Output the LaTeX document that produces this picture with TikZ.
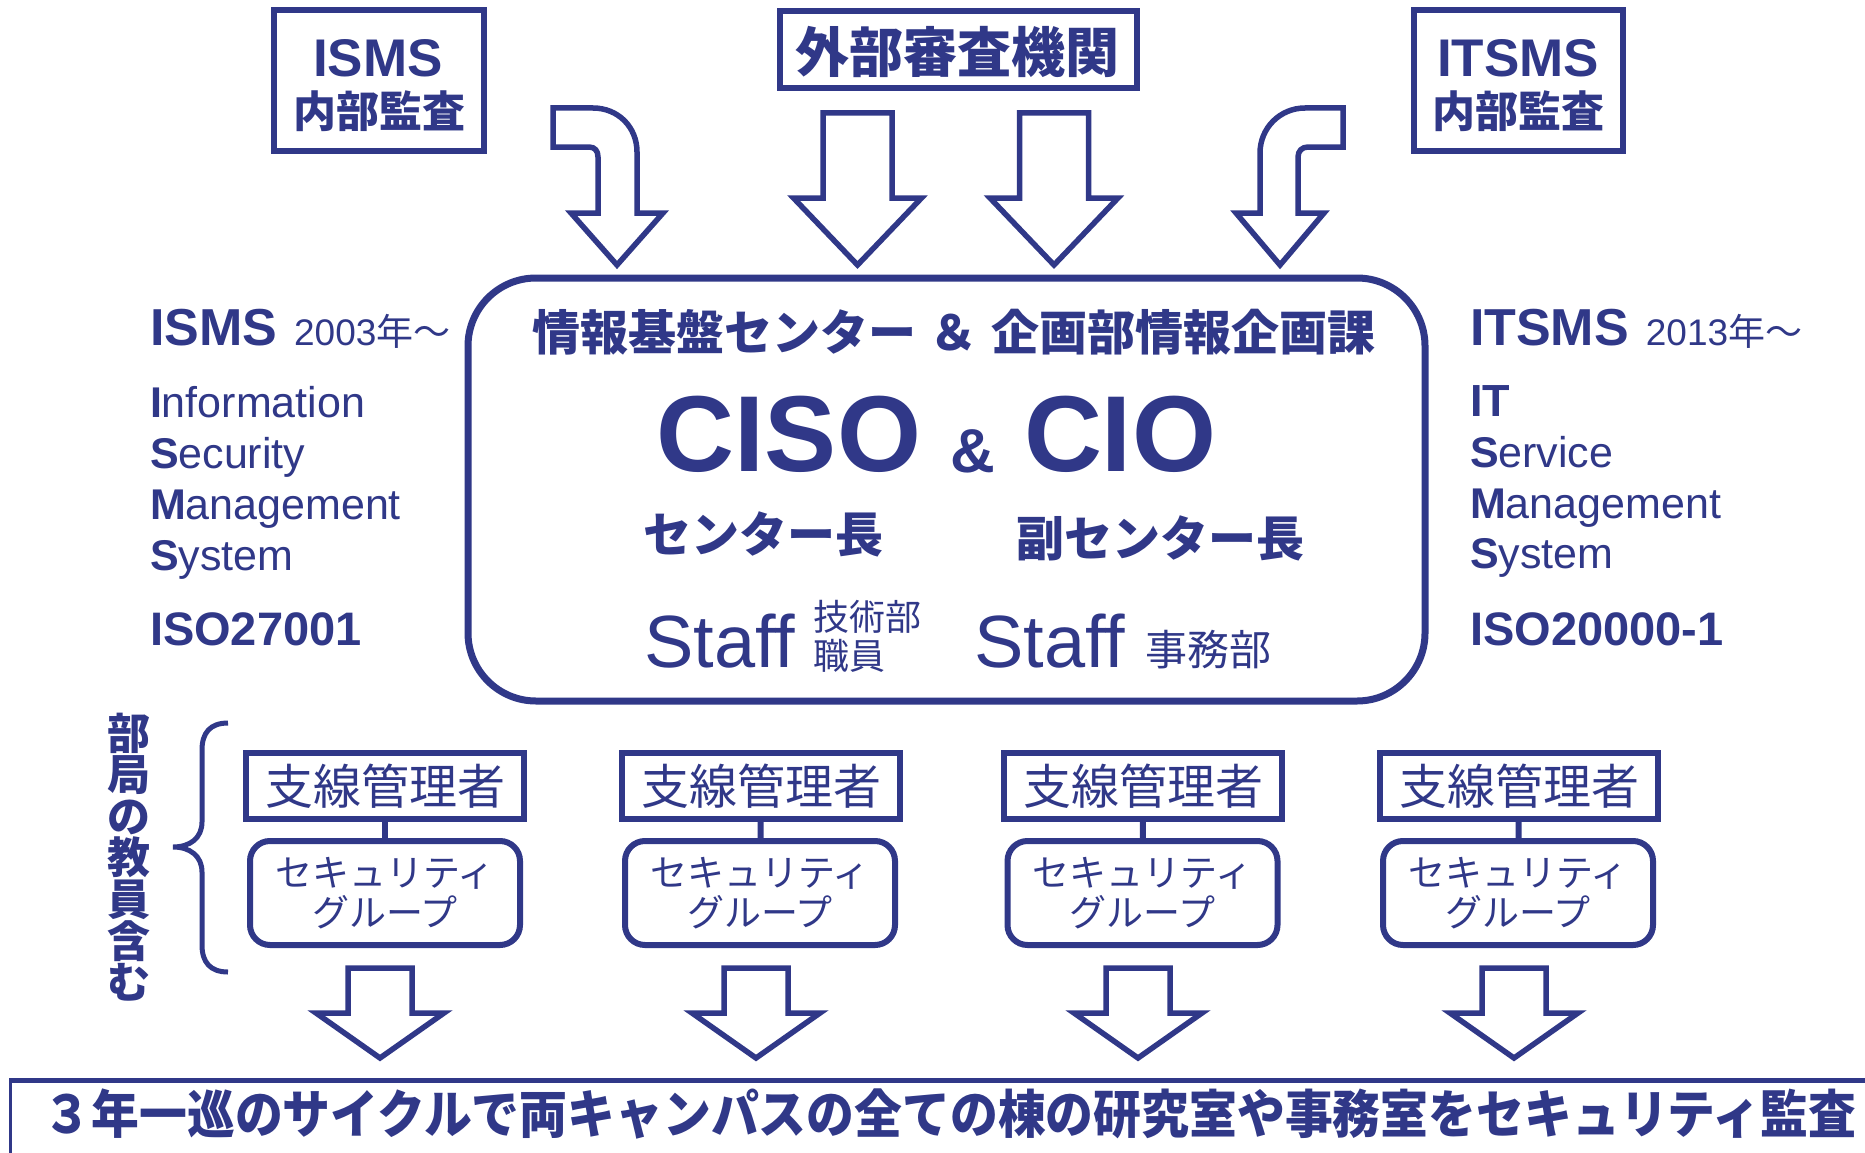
\documentclass[tikz,border=0pt]{standalone}
\usepackage{fontspec}
\usepackage{graphicx}
\setmainfont{Liberation Sans}
\newfontfamily\jp{Noto Sans CJK JP}
\definecolor{navy}{RGB}{48,56,136}
\newcommand\fsz[1]{\fontsize{#1}{#1}\selectfont}
\newcommand\blkdown[6]{% x, ytop, yhead, ytip, shaft half width, head half width
  \draw[blk] (#1-#5,#2) -- (#1+#5,#2) -- (#1+#5,#3) -- (#1+#6,#3) -- (#1,#4) -- (#1-#6,#3) -- (#1-#5,#3) -- cycle;}
\begin{document}
\begin{tikzpicture}[x=1pt,y=-1pt]
\tikzset{
  every node/.style={text=navy, inner sep=0pt, outer sep=0pt},
  frame/.style={draw=navy, line width=5.5pt, fill=white},
  mgr/.style={frame, line width=6pt, minimum width=278pt, minimum height=66pt},
  grp/.style={frame, line width=6pt, rounded corners=20pt, minimum width=270pt, minimum height=104pt, align=center, font={\jp\fontsize{37}{40}\selectfont}},
  blk/.style={draw=navy, line width=5.5pt, fill=white, line join=miter},
  link/.style={draw=navy, line width=6pt},
}
\useasboundingbox (0,0) rectangle (1865,1153);
\fill[white] (0,0) rectangle (1865,1153);
\clip (0,0) rectangle (1865,1153);

% ---- top boxes
\node[frame, minimum width=210pt, minimum height=141pt] (ismsbox) at (379,80.5) {};
\node[anchor=base] (ismslbl) at (378,77) {\bfseries\fsz{53}ISMS};
\node (ismsaud) at (379,111.5) {\jp\bfseries\fsz{43}内部監査};

\node[frame, minimum width=209pt, minimum height=141pt] (itsmsbox) at (1518.5,80.5) {};
\node[anchor=base] (itsmslbl) at (1518,77) {\bfseries\fsz{53}ITSMS};
\node (itsmsaud) at (1518.5,111.5) {\jp\bfseries\fsz{43}内部監査};

\node[frame, minimum width=357pt, minimum height=77pt] (extbox) at (958.5,49.5) {};
\node (extlbl) at (957,51.5) {\jp\bfseries\fsz{54}外部審査機関};

% ---- top arrows
\draw[blk] (553,108) -- (593,108) .. controls (618,108) and (637,127) .. (637,152) -- (637,213) -- (663,213) -- (617,265) -- (571,213) -- (598,213) -- (598,157) .. controls (598,151) and (595,147) .. (589,147) -- (553,147) -- cycle;
\draw[blk] (1343,108) -- (1305,108) .. controls (1280,108) and (1260,128) .. (1260,153) -- (1260,213) -- (1236,213) -- (1280,265) -- (1324,213) -- (1298,213) -- (1298,157) .. controls (1298,151) and (1302,147) .. (1308,147) -- (1343,147) -- cycle;
\blkdown{857.5}{113}{198}{265}{34.5}{64}
\blkdown{1054}{113}{198}{265}{34.5}{64}

% ---- main box
\node[draw=navy, line width=7pt, rounded corners=68pt, minimum width=957pt, minimum height=423pt, fill=white] (main) at (946.5,489.5) {};
\node (title) at (954,332) {\jp\bfseries\fsz{48}情報基盤センター\hspace{14pt}＆\hspace{14pt}企画部情報企画課};
\node[anchor=base] (ciso) at (789,471) {\bfseries\fsz{108}CISO};
\node[anchor=base] (amp) at (973,472) {\bfseries\fsz{62}\&};
\node[anchor=base] (cio) at (1120,471) {\bfseries\fsz{108}CIO};
\node (head) at (763,534.5) {\jp\bfseries\fsz{48}センター長};
\node (vhead) at (1160,538) {\jp\bfseries\fsz{48}副センター長};
\node[anchor=base] (staffa) at (720,667) {\fsz{74}Staff};
\node[anchor=west] (techa) at (813,617) {\jp\fsz{36}技術部};
\node[anchor=west] (techb) at (813,656) {\jp\fsz{36}職員};
\node[anchor=base] (staffb) at (1050,667) {\fsz{74}Staff};
\node (office) at (1208,650) {\jp\fsz{42}事務部};

% ---- left side
\node[anchor=base west] (ismsl) at (150,345) {\bfseries\fsz{52}ISMS\hspace{17pt}\mdseries\fsz{37}2003{\jp 年〜}};
\node[anchor=base west] (li) at (150,417) {\fsz{43}{\bfseries I}nformation};
\node[anchor=base west] (ls) at (150,468) {\fsz{43}{\bfseries S}ecurity};
\node[anchor=base west] (lm) at (150,519) {\fsz{43}{\bfseries M}anagement};
\node[anchor=base west] (lsy) at (150,570) {\fsz{43}{\bfseries S}ystem};
\node[anchor=base west] (liso) at (150,645) {\bfseries\fsz{47}ISO27001};

% ---- right side
\node[anchor=base west] (itsmsr) at (1470,345) {\bfseries\fsz{52}ITSMS\hspace{17pt}\mdseries\fsz{37}2013{\jp 年〜}};
\node[anchor=base west] (rit) at (1470,416) {\bfseries\fsz{45}IT};
\node[anchor=base west] (rs) at (1470,467) {\fsz{43}{\bfseries S}ervice};
\node[anchor=base west] (rm) at (1470,518) {\fsz{43}{\bfseries M}anagement};
\node[anchor=base west] (rsy) at (1470,568) {\fsz{43}{\bfseries S}ystem};
\node[anchor=base west] (riso) at (1470,645) {\bfseries\fsz{47}ISO20000-1};

% ---- vertical label and brace
\node[align=center, font={\jp\bfseries\fontsize{43}{41.6}\selectfont}] (dept) at (129,857) {部\\局\\の\\教\\員\\含\\む};
\draw[navy, line width=5pt] (228,723) .. controls (210,723) and (202,733) .. (202,750) -- (202,822) .. controls (202,838) and (190,847) .. (173,847) .. controls (190,847) and (202,856) .. (202,872) -- (202,945) .. controls (202,962) and (210,972) .. (228,972);

% ---- branch managers and security groups
\node[mgr] (ma) at (385,786) {\jp\fsz{48}支線管理者};
\node[mgr] (mb) at (761,786) {\jp\fsz{48}支線管理者};
\node[mgr] (mc) at (1143,786) {\jp\fsz{48}支線管理者};
\node[mgr] (md) at (1519,786) {\jp\fsz{48}支線管理者};
\node[grp] (ga) at (385,893) {セキュリティ\\グループ};
\node[grp] (gb) at (760,893) {セキュリティ\\グループ};
\node[grp] (gc) at (1142.5,893) {セキュリティ\\グループ};
\node[grp] (gd) at (1518,893) {セキュリティ\\グループ};
\draw[link] (ma) -- (ga);
\draw[link] (mb) -- (gb);
\draw[link] (mc) -- (gc);
\draw[link] (md) -- (gd);

% ---- bottom arrows
\blkdown{380}{968}{1013}{1058}{32}{64}
\blkdown{756}{968}{1013}{1058}{32}{64}
\blkdown{1138}{968}{1013}{1058}{32}{64}
\blkdown{1514}{968}{1013}{1058}{32}{64}

% ---- bottom banner
\draw[navy, line width=5pt] (1880,1080) -- (10,1080);
\draw[navy, line width=3pt] (10,1078) -- (10,1170);
\node (audit) at (950,1114) {\jp\bfseries\fsz{52}\scalebox{0.92}[1]{３年一巡のサイクルで両キャンパスの全ての棟の研究室や事務室をセキュリティ監査}};
\end{tikzpicture}
\end{document}
